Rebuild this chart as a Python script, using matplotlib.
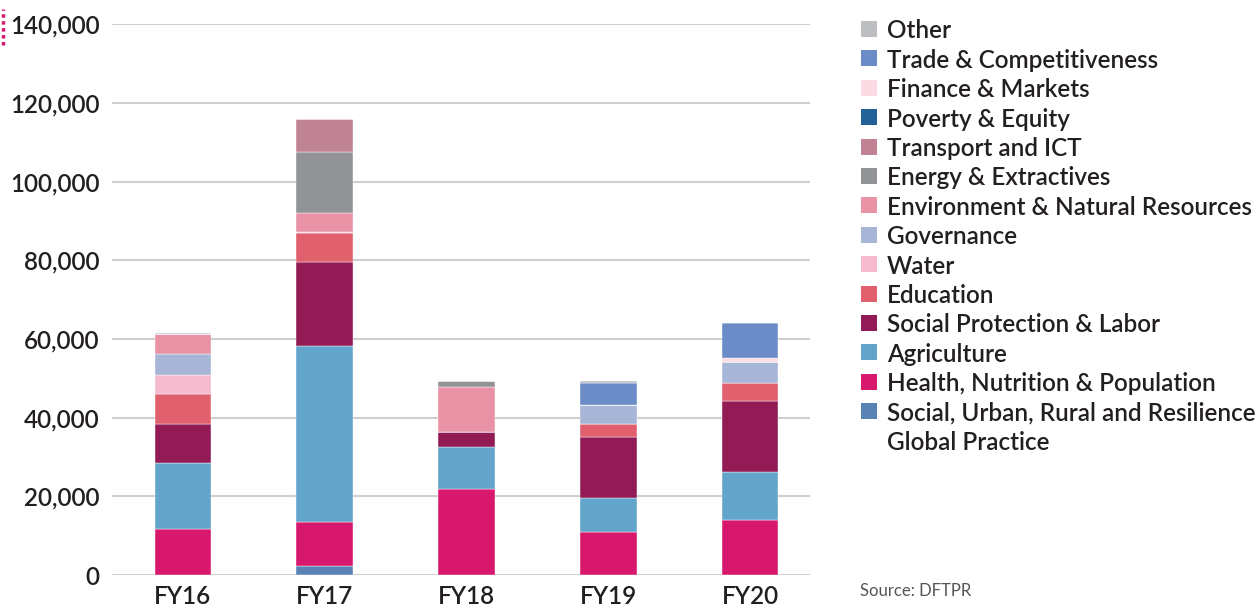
import matplotlib
matplotlib.use("Agg")
import matplotlib.pyplot as plt
from matplotlib.patches import Rectangle
from matplotlib.ticker import FuncFormatter
import numpy as np

plt.rcParams['font.family'] = ['Lato', 'DejaVu Sans']

years = ["FY16", "FY17", "FY18", "FY19", "FY20"]

# stacked bottom -> top
surr = [0, 2300, 0, 0, 0]
health = [11700, 11100, 21800, 11000, 14000]
agriculture = [16700, 44800, 10700, 8600, 12300]
social_protection = [9900, 21400, 3800, 15500, 18000]
education = [7700, 7200, 0, 3400, 4400]
water = [4800, 300, 0, 0, 0]
governance = [5300, 0, 0, 4800, 5500]
environment = [5100, 4800, 11400, 0, 0]
energy = [0, 15700, 1700, 0, 0]
transport = [0, 8200, 0, 0, 0]
poverty = [0, 0, 0, 0, 0]
finance = [0, 0, 0, 0, 850]
trade = [0, 0, 0, 5500, 9050]
other = [400, 0, 0, 500, 0]

series = [
    ("Social, Urban, Rural and Resilience\nGlobal Practice", surr, "#5a82b5"),
    ("Health, Nutrition & Population", health, "#d8186c"),
    ("Agriculture", agriculture, "#63a4ca"),
    ("Social Protection & Labor", social_protection, "#921b55"),
    ("Education", education, "#e0606e"),
    ("Water", water, "#f6bace"),
    ("Governance", governance, "#a7b5d6"),
    ("Environment & Natural Resources", environment, "#e992a5"),
    ("Energy & Extractives", energy, "#929397"),
    ("Transport and ICT", transport, "#c08394"),
    ("Poverty & Equity", poverty, "#236198"),
    ("Finance & Markets", finance, "#fbdbe4"),
    ("Trade & Competitiveness", trade, "#6b8cc7"),
    ("Other", other, "#bdbec2"),
]

W, H = 1259, 604
fig = plt.figure(figsize=(W / 100, H / 100), dpi=100)
ax = fig.add_axes([0.089, 0.048, 0.554, 0.912])

x = np.arange(len(years))
bottom = np.zeros(len(years))
for name, vals, col in series:
    vals = np.array(vals, dtype=float)
    ax.bar(x, vals, bottom=bottom, width=0.4, color=col, edgecolor="white", linewidth=0.3)
    bottom += vals

ax.set_ylim(0, 140000)
ax.set_xlim(-0.5, 4.42)
ax.set_yticks(np.arange(0, 140001, 20000))
ax.yaxis.set_major_formatter(FuncFormatter(lambda v, p: f"{int(v):,}"))
ax.set_xticks(x)
ax.set_xticklabels(years)
ax.grid(axis="y", color="#cfcfcf", linewidth=1.5)
ax.set_axisbelow(True)
for s in ax.spines.values():
    s.set_visible(False)
ax.tick_params(axis="both", length=0, labelsize=17.5, colors="#231f20")
for lbl in ax.get_xticklabels() + ax.get_yticklabels():
    lbl.set_fontweight("semibold")
ax.tick_params(axis="y", pad=9)
ax.tick_params(axis="x", pad=7)

# legend, drawn row by row (top row = last series)
row = 0
for name, _, col in series[::-1]:
    yc = 29 + 29.4 * row
    fig.add_artist(Rectangle((861 / W, 1 - (yc + 8) / H), 16 / W, 16 / H,
                             transform=fig.transFigure, facecolor=col, edgecolor="none"))
    for k, line in enumerate(name.split("\n")):
        fig.text(887 / W, 1 - (yc + 29.4 * k) / H, line, fontsize=17.5,
                 fontweight="semibold", color="#231f20", va="center_baseline")
    row += 1

fig.text(860 / W, 0.013, "Source: DFTPR", fontsize=12, color="#555555")
fig.add_artist(plt.Line2D([0.002, 0.002], [0.925, 0.985], color="#d8186c",
                          linewidth=2.5, linestyle=(0, (1, 1))))

fig.savefig("out.png", dpi=100)
